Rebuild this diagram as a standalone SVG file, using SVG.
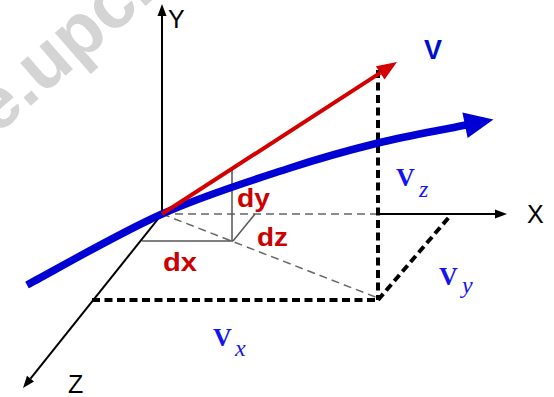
<svg xmlns="http://www.w3.org/2000/svg" width="554" height="397" viewBox="0 0 554 397">
  <style>
    .axis { stroke: #000; stroke-width: 2; fill: none; }
    .guide { stroke: #555; stroke-width: 1.5; fill: none; }
    .guide-dash { stroke: #666; stroke-width: 1.5; stroke-dasharray: 8 5; fill: none; }
    .comp { stroke: #000; stroke-width: 4; stroke-dasharray: 8 4.5; fill: none; }
    .axis-label { font-family: "Liberation Sans", Arial, sans-serif; font-size: 25px; fill: #000; }
    .diff { font-family: "Liberation Sans", Arial, sans-serif; font-weight: bold; font-size: 25px; fill: #cc0000; }
    .vmain { font-family: "Liberation Serif", "Times New Roman", serif; font-weight: bold; font-size: 26px; fill: #1414f0; }
    .vsub { font-family: "Liberation Serif", "Times New Roman", serif; font-style: italic; font-size: 24px; fill: #1414f0; }
    .watermark { font-family: "Liberation Sans", Arial, sans-serif; font-weight: bold; font-size: 74px; fill: #d4d4d4; }
  </style>
  <defs>
    <marker id="axisArrow" markerUnits="userSpaceOnUse" markerWidth="12" markerHeight="9" refX="0" refY="4.5" orient="auto" overflow="visible">
      <path d="M0,0 L12,4.5 L0,9 z" fill="#000"/>
    </marker>
    <marker id="redArrow" markerUnits="userSpaceOnUse" markerWidth="20" markerHeight="16" refX="0" refY="8" orient="auto" overflow="visible">
      <path d="M0,0 L20,8 L0,16 z" fill="#d40000"/>
    </marker>
    <marker id="blueArrow" markerUnits="userSpaceOnUse" markerWidth="29" markerHeight="26" refX="1" refY="13" orient="auto" overflow="visible">
      <path d="M0,0 L29,13 L0,26 z" fill="#0000d4"/>
    </marker>
  </defs>

  <g id="watermark">
    <text class="watermark" x="-4" y="136" transform="rotate(-41 -4 136)">e.upc.</text>
  </g>

  <g id="connectors">
    <line class="guide-dash" x1="162" y1="214" x2="378" y2="214"/>
    <line class="guide-dash" x1="162" y1="214" x2="378" y2="298"/>
    <line class="guide" x1="232" y1="170" x2="232" y2="241"/>
    <line class="guide" x1="142" y1="241" x2="233" y2="241"/>
    <line class="guide" x1="233" y1="241" x2="255" y2="214"/>
    <line class="comp" x1="378" y1="70" x2="378" y2="300"/>
    <line class="comp" x1="92" y1="300" x2="378" y2="300"/>
    <line class="comp" x1="378" y1="300" x2="450" y2="216"/>
    <line id="axis-y" class="axis" x1="162" y1="214" x2="162" y2="16" marker-end="url(#axisArrow)"/>
    <line id="axis-x" class="axis" x1="378" y1="214" x2="495" y2="214" marker-end="url(#axisArrow)"/>
    <line id="axis-z" class="axis" x1="162" y1="214" x2="30.5" y2="378.6" marker-end="url(#axisArrow)"/>
    <path id="trajectory" d="M27,285 C49.5,273.2 118.2,233.5 162,214 C205.8,194.5 254,179.8 290,168 C326,156.2 348.7,150.2 378,143 C407.3,135.8 436.7,131 466,125" stroke="#0000d4" stroke-width="7.5" fill="none" marker-end="url(#blueArrow)"/>
    <line id="velocity" x1="162" y1="214" x2="380.2" y2="72.9" stroke="#d40000" stroke-width="4" marker-end="url(#redArrow)"/>
  </g>

  <g id="label-Y"><text class="axis-label" x="168" y="28" font-size="26">Y</text></g>
  <g id="label-X"><text class="axis-label" x="527" y="223">X</text></g>
  <g id="label-Z"><text class="axis-label" x="68" y="393">Z</text></g>

  <g id="label-V">
    <text x="424" y="59" font-family="Liberation Sans, Arial, sans-serif" font-weight="bold" font-size="27" fill="#0010c8">V</text>
  </g>

  <g id="label-dy"><text class="diff" x="237" y="207" textLength="33" lengthAdjust="spacingAndGlyphs">dy</text></g>
  <g id="label-dz"><text class="diff" x="257" y="246" textLength="31" lengthAdjust="spacingAndGlyphs">dz</text></g>
  <g id="label-dx"><text class="diff" x="163" y="271" textLength="34" lengthAdjust="spacingAndGlyphs">dx</text></g>

  <g id="label-Vz"><text class="vmain" x="396" y="186">V</text><text class="vsub" x="419" y="197">z</text></g>
  <g id="label-Vy"><text class="vmain" x="439" y="285" font-size="27">V</text><text class="vsub" x="462" y="293">y</text></g>
  <g id="label-Vx"><text class="vmain" x="213" y="346">V</text><text class="vsub" x="235" y="356">x</text></g>
</svg>
